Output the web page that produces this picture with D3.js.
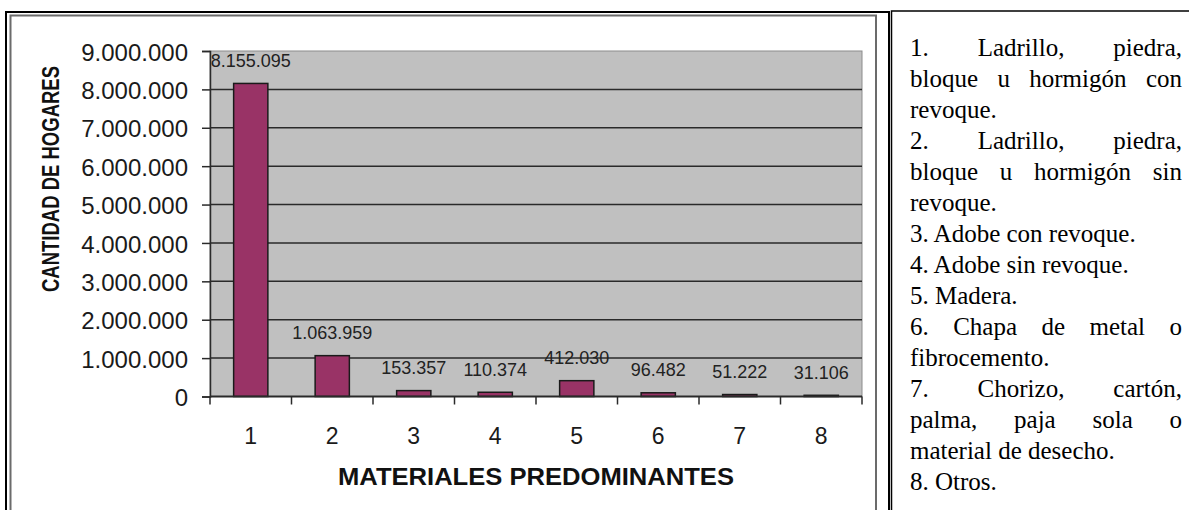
<!DOCTYPE html>
<html>
<head>
<meta charset="utf-8">
<script src="https://cdn.jsdelivr.net/npm/d3@7"></script>
<style>
  body { margin: 0; background: #fff; }
  svg { display: block; }
</style>
</head>
<body>
<svg id="chart" width="1189" height="510"></svg>
<script>
// Hogares según material predominante de las paredes exteriores
const categories = ["1", "2", "3", "4", "5", "6", "7", "8"];
const hogares = [8155095, 1063959, 153357, 110374, 412030, 96482, 51222, 31106];
const yTickValues = [0, 1000000, 2000000, 3000000, 4000000, 5000000, 6000000, 7000000, 8000000, 9000000];
const yTitle = "CANTIDAD DE HOGARES";
const xTitle = "MATERIALES PREDOMINANTES";

// Referencias de materiales (cada entrada: renglones del párrafo)
const legendParagraphs = [
  ["1. Ladrillo, piedra,", "bloque u hormigón con", "revoque."],
  ["2. Ladrillo, piedra,", "bloque u hormigón sin", "revoque."],
  ["3. Adobe con revoque."],
  ["4. Adobe sin revoque."],
  ["5. Madera."],
  ["6. Chapa de metal o", "fibrocemento."],
  ["7. Chorizo, cartón,", "palma, paja sola o", "material de desecho."],
  ["8. Otros."]
];

const es = d3.formatLocale({ decimal: ",", thousands: ".", grouping: [3], currency: ["$", ""] });
const fmt = es.format(",d");

const svg = d3.select("#chart");

// Marco de la tabla: celda del gráfico y celda de referencias
svg.append("rect")
  .attr("x", 6).attr("y", 12).attr("width", 883).attr("height", 560)
  .attr("fill", "none").attr("stroke", "#000").attr("stroke-width", 2);
svg.append("rect")
  .attr("x", 891.5).attr("y", 11).attr("width", 400).attr("height", 560)
  .attr("fill", "none").attr("stroke", "#000").attr("stroke-width", 1.5);
// Borde del área del gráfico
svg.append("rect")
  .attr("x", 10.5).attr("y", 15.5).attr("width", 865.5).attr("height", 560)
  .attr("fill", "none").attr("stroke", "#6b6b6b").attr("stroke-width", 2);

// Escalas
const plot = { left: 210, right: 862, top: 51, bottom: 396.5 };
const x = d3.scaleBand()
  .domain(categories)
  .range([plot.left, plot.right])
  .paddingInner(0.58)
  .paddingOuter(0.29);
const y = d3.scaleLinear()
  .domain([0, 9000000])
  .range([plot.bottom, plot.top]);

// Fondo gris del área de trazado
svg.append("rect")
  .attr("x", plot.left).attr("y", plot.top)
  .attr("width", plot.right - plot.left).attr("height", plot.bottom - plot.top)
  .attr("fill", "#c0c0c0").attr("stroke", "#8c8c8c").attr("stroke-width", 1);

// Líneas de división horizontales
svg.append("g")
  .selectAll("line")
  .data(yTickValues.filter(v => v > 0 && v < 9000000))
  .join("line")
  .attr("x1", plot.left).attr("x2", plot.right)
  .attr("y1", d => y(d)).attr("y2", d => y(d))
  .attr("stroke", "#2a2a2a").attr("stroke-width", 1.5);

// Eje Y
const yAxis = svg.append("g")
  .attr("transform", `translate(${plot.left},0)`)
  .call(d3.axisLeft(y).tickValues(yTickValues).tickFormat(fmt).tickSize(8).tickPadding(14));
yAxis.select(".domain").attr("stroke", "#2a2a2a").attr("stroke-width", 1.5);
yAxis.selectAll(".tick line").attr("stroke", "#2a2a2a").attr("stroke-width", 1.5);
yAxis.selectAll(".tick text")
  .attr("font-family", "Arial, 'Liberation Sans', sans-serif")
  .attr("font-size", 24)
  .attr("fill", "#1a1a1a")
  .attr("dy", "0.38em");

// Barras
svg.append("g")
  .selectAll("rect")
  .data(hogares)
  .join("rect")
  .attr("x", (d, i) => x(categories[i]))
  .attr("y", d => y(d))
  .attr("width", x.bandwidth())
  .attr("height", d => y(0) - y(d))
  .attr("fill", "#993366")
  .attr("stroke", "#1a1a1a")
  .attr("stroke-width", 1.5);

// Eje X con marcas entre categorías
const xAxisG = svg.append("g").attr("transform", `translate(0,${plot.bottom})`);
xAxisG.append("line")
  .attr("x1", plot.left).attr("x2", plot.right)
  .attr("stroke", "#2a2a2a").attr("stroke-width", 2);
const step = x.step();
xAxisG.selectAll("line.sep")
  .data(d3.range(categories.length + 1))
  .join("line")
  .attr("class", "sep")
  .attr("x1", i => plot.left + i * step).attr("x2", i => plot.left + i * step)
  .attr("y1", 0).attr("y2", 8)
  .attr("stroke", "#2a2a2a").attr("stroke-width", 1.5);
xAxisG.selectAll("text")
  .data(categories)
  .join("text")
  .attr("x", d => x(d) + x.bandwidth() / 2)
  .attr("y", 39)
  .attr("dy", "0.35em")
  .attr("text-anchor", "middle")
  .attr("font-family", "Arial, 'Liberation Sans', sans-serif")
  .attr("font-size", 23)
  .attr("fill", "#1a1a1a")
  .text(d => d);

// Rótulos de valores
svg.append("g")
  .selectAll("text")
  .data(hogares)
  .join("text")
  .attr("x", (d, i) => x(categories[i]) + x.bandwidth() / 2)
  .attr("y", d => y(d) - 23)
  .attr("dy", "0.35em")
  .attr("text-anchor", "middle")
  .attr("font-family", "Arial, 'Liberation Sans', sans-serif")
  .attr("font-size", 18)
  .attr("fill", "#222")
  .text(d => fmt(d));

// Títulos de ejes
svg.append("text")
  .attr("transform", `translate(51,${(66 + 292) / 2}) rotate(-90)`)
  .attr("text-anchor", "middle")
  .attr("dy", "0.35em")
  .attr("font-family", "Arial, 'Liberation Sans', sans-serif")
  .attr("font-weight", "bold")
  .attr("font-size", 24)
  .attr("textLength", 226)
  .attr("lengthAdjust", "spacingAndGlyphs")
  .attr("fill", "#111")
  .text(yTitle);

svg.append("text")
  .attr("x", (plot.left + plot.right) / 2)
  .attr("y", 477)
  .attr("dy", "0.35em")
  .attr("text-anchor", "middle")
  .attr("font-family", "Arial, 'Liberation Sans', sans-serif")
  .attr("font-weight", "bold")
  .attr("font-size", 23)
  .attr("textLength", 396)
  .attr("lengthAdjust", "spacingAndGlyphs")
  .attr("fill", "#111")
  .text(xTitle);

// Referencias: texto justificado en la celda derecha
const legend = { left: 910, right: 1182, firstBaseline: 56, lineHeight: 31, fontSize: 25 };
const legendG = svg.append("g")
  .attr("font-family", "'Liberation Serif', 'Times New Roman', serif")
  .attr("font-size", legend.fontSize)
  .attr("fill", "#000");

const measurer = legendG.append("text").attr("visibility", "hidden");
function wordWidth(w) {
  measurer.text(w);
  return measurer.node().getComputedTextLength();
}

let lineIndex = 0;
legendParagraphs.forEach(par => {
  par.forEach((line, li) => {
    const yPos = legend.firstBaseline + lineIndex * legend.lineHeight;
    const isLast = li === par.length - 1;
    if (isLast) {
      legendG.append("text").attr("x", legend.left).attr("y", yPos).text(line);
    } else {
      const words = line.split(" ");
      const widths = words.map(wordWidth);
      const total = d3.sum(widths);
      const gap = (legend.right - legend.left - total) / (words.length - 1);
      let cx = legend.left;
      words.forEach((w, wi) => {
        legendG.append("text").attr("x", cx).attr("y", yPos).text(w);
        cx += widths[wi] + gap;
      });
    }
    lineIndex++;
  });
});
measurer.remove();
</script>
</body>
</html>
